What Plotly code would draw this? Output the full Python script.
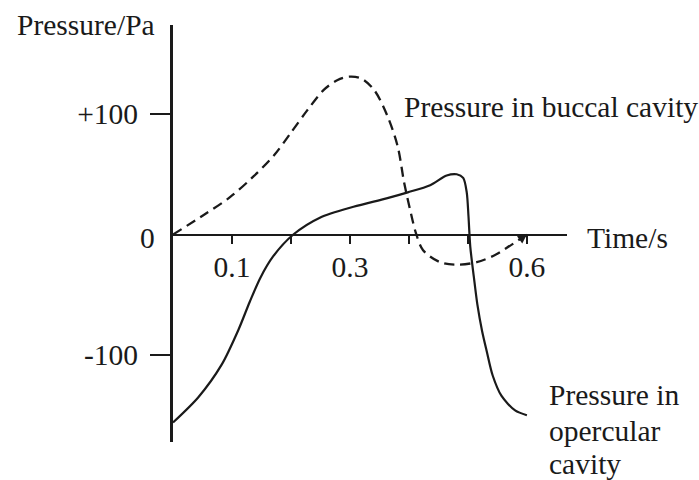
import plotly.graph_objects as go

# Data
t_operc = [0, 0.043, 0.0825, 0.111, 0.13, 0.148, 0.17, 0.204, 0.249, 0.306, 0.362, 0.398,
           0.436, 0.464, 0.481, 0.492, 0.498, 0.501, 0.504, 0.51, 0.516, 0.524, 0.532, 0.542,
           0.557, 0.58, 0.6]
p_operc = [-156, -135, -108, -79, -56, -36, -18, 0, 14, 23, 30, 35,
           41, 49, 50, 47, 35, 15, -10, -35, -58, -80, -97, -117,
           -134, -146, -150]

t_bucc = [0, 0.0514, 0.0966, 0.136, 0.1717, 0.1992, 0.2275, 0.2556, 0.2783, 0.298, 0.3186,
          0.341, 0.3639, 0.381, 0.3921, 0.4034, 0.412, 0.424, 0.453, 0.481, 0.515, 0.546,
          0.566, 0.6]
p_bucc = [0, 16, 31, 48, 66, 84, 103, 120, 128, 131, 129.6,
          120, 98, 73, 42.5, 17.6, 1, -13, -23, -25, -23, -17,
          -11, 0]

x_tickvals = [0.1, 0.2, 0.3, 0.4, 0.5, 0.6]
x_ticktext = ["0.1", "", "0.3", "", "", "0.6"]
y_tickvals = [100, -100]
y_ticktext = ["+100", "-100"]

INK = "#1a1a1a"
FONT = "Liberation Serif"
FS = 29.5

fig = go.Figure()
fig.add_trace(go.Scatter(x=t_bucc, y=p_bucc, mode="lines",
                         line=dict(color=INK, width=2.3, dash="10px,6px", shape="spline", smoothing=0.9),
                         hoverinfo="skip", showlegend=False))
fig.add_trace(go.Scatter(x=t_operc, y=p_operc, mode="lines",
                         line=dict(color=INK, width=2.2, shape="spline", smoothing=0.8),
                         hoverinfo="skip", showlegend=False))

L, R, T, B = 173, 567, 25, 442
W, H = 699, 480


def px(x):
    return (x - L) / (R - L)


def py(y):
    return (B - y) / (B - T)


y0_pos = py(234.5)

fig.update_layout(
    width=W, height=H,
    margin=dict(l=L, r=W - R, t=T, b=H - B, pad=0),
    paper_bgcolor="white", plot_bgcolor="white",
    font=dict(family=FONT, size=FS, color=INK),
    xaxis=dict(range=[0, 0.668], showgrid=False, zeroline=False, showline=True,
               linecolor=INK, linewidth=2, anchor="free", position=y0_pos,
               tickmode="array", tickvals=x_tickvals, ticktext=x_ticktext,
               ticks="outside", ticklen=8, tickwidth=2, tickcolor=INK,
               tickfont=dict(family=FONT, size=FS, color=INK), ticklabelstandoff=-2),
    yaxis=dict(range=[-172.2, 173.9], showgrid=False, zeroline=False, showline=True,
               linecolor=INK, linewidth=3,
               tickmode="array", tickvals=y_tickvals, ticktext=y_ticktext,
               ticks="outside", ticklen=20, tickwidth=2, tickcolor=INK,
               tickfont=dict(family=FONT, size=FS, color=INK), ticklabelstandoff=6),
)

ann = [
    dict(text="Pressure/Pa", x=px(15), y=py(25), xanchor="left"),
    dict(text="Pressure in buccal cavity", x=px(402), y=py(107), xanchor="left"),
    dict(text="Time/s", x=px(585), y=py(238), xanchor="left"),
    dict(text="Pressure in", x=px(547), y=py(395), xanchor="left"),
    dict(text="opercular", x=px(547), y=py(431), xanchor="left"),
    dict(text="cavity", x=px(547), y=py(464), xanchor="left"),
    dict(text="0", x=px(157), y=py(238), xanchor="right"),
]
for a in ann:
    fig.add_annotation(xref="paper", yref="paper", showarrow=False, yanchor="middle",
                       font=dict(family=FONT, size=FS, color=INK), **a)

# arrowhead at end of buccal curve
fig.add_annotation(x=t_bucc[-1], y=p_bucc[-1], ax=0.586, ay=-5, xref="x", yref="y",
                   axref="x", ayref="y", showarrow=True, arrowhead=2, arrowsize=1.2,
                   arrowwidth=1.5, arrowcolor=INK, text="")

fig.write_html("out.html", config={"displayModeBar": False},
               post_script="document.body.style.margin='0';")
